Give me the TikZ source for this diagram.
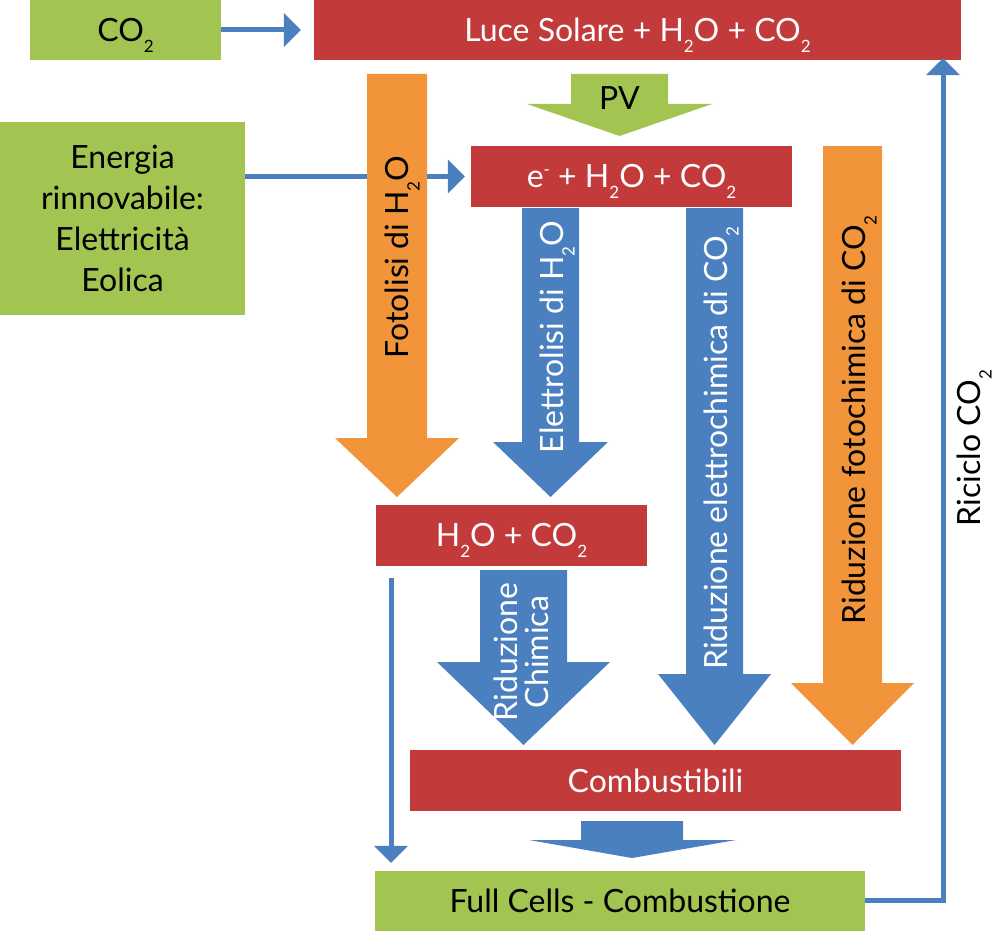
\documentclass[tikz,border=0pt]{standalone}
\usepackage{fontspec}
\setmainfont{Lato}
\usetikzlibrary{arrows.meta}
\definecolor{cgreen}{HTML}{A2C552}
\definecolor{cred}{HTML}{C23A3A}
\definecolor{corange}{HTML}{F2953A}
\definecolor{cblue}{HTML}{4A80BF}
\newcommand\ssub[1]{\raisebox{-11pt}[0pt][0pt]{\fontsize{17}{17}\selectfont #1}}
\newcommand\ssup[1]{\raisebox{12pt}[0pt][0pt]{\fontsize{17}{17}\selectfont #1}}
\tikzset{
  box/.style={rectangle, inner sep=0pt, minimum width=#1, font=\fontsize{32}{41}\selectfont},
  redbox/.style={box=#1, fill=cred, text=white, minimum height=61pt},
  greenbox/.style={box=#1, fill=cgreen, text=black, minimum height=60pt},
  thinarrow/.style={draw=cblue, line width=5pt, -{Triangle[width=33pt,length=17pt]}},
  vlabel/.style={rotate=90, inner sep=0pt, font=\fontsize{32}{31}\selectfont},
}
\begin{document}
\begin{tikzpicture}[x=1pt,y=-1pt]
\useasboundingbox (0,0) rectangle (1000,931);
% boxes
\node[greenbox=191pt] (co2) at (125.5,30) {CO\ssub2};
\node[redbox=647pt, minimum height=60pt] (luce) at (637.5,30) {Luce Solare + H\ssub2O + CO\ssub2};
\node[greenbox=245pt, minimum height=193pt, align=center] (energia) at (122.5,218.5)
  {Energia\\rinnovabile:\\Elettricità\\Eolica};
\node[redbox=321pt] (epl) at (631.5,176.5) {e\ssup{-} + H\ssub2O + CO\ssub2};
% thin connectors
\draw[thinarrow, shorten >=13pt] (co2.east) -- (luce.west);
\draw[thinarrow, shorten >=6pt] (epl.west -| energia.east) -- (epl.west);
% block arrows
\fill[corange] (367,74) -- (427,74) -- (427,438) -- (459,438) -- (397,497) -- (335,438) -- (367,438) -- cycle;
\node[vlabel] (lfoto) at (397,257) {Fotolisi di H\ssub2O};
\fill[cgreen] (571,74) -- (668,74) -- (668,104) -- (712,104) -- (619.5,136) -- (527,104) -- (571,104) -- cycle;
\node[inner sep=0pt, font=\fontsize{32}{31}\selectfont] (lpv) at (619.5,98) {PV};
\fill[cblue] (522,208) -- (579,208) -- (579,442) -- (608,442) -- (550.5,497) -- (493,442) -- (522,442) -- cycle;
\node[vlabel, text=white] (lelet) at (552,337) {Elettrolisi di H\ssub2O};
\fill[cblue] (686,208) -- (743,208) -- (743,674) -- (771,674) -- (714.5,745) -- (658,674) -- (686,674) -- cycle;
\node[vlabel, text=white] (lelch) at (716,448) {Riduzione elettrochimica di CO\ssub2};
\fill[corange] (823,146) -- (882,146) -- (882,683) -- (914,683) -- (852.5,745) -- (791,683) -- (823,683) -- cycle;
\node[vlabel] (lfch) at (854,420) {Riduzione fotochimica di CO\ssub2};
\node[redbox=271pt] (h2o) at (511.5,535.5) {H\ssub2O + CO\ssub2};
\fill[cblue] (480,570) -- (567,570) -- (567,662) -- (610,662) -- (523.5,745) -- (437,662) -- (480,662) -- cycle;
\node[vlabel, text=white, align=center] (lchim) at (521,652) {Riduzione\\Chimica};
\node[redbox=491pt] (comb) at (655.5,780.5) {Combustibili};
\fill[cblue] (581,821) -- (683,821) -- (683,840) -- (736,840) -- (632,858) -- (529,840) -- (581,840) -- cycle;
\node[greenbox=490pt] (fuel) at (620,901) {Full Cells - Combustione};
\coordinate (s1) at (391,578);
\draw[thinarrow, shorten >=8pt] (s1) -- (s1 |- fuel.north);
\coordinate (r1) at (943,900);
\draw[thinarrow, shorten >=-2pt] (fuel.east |- r1) -- (r1) -- (r1 |- luce.south);
\node[vlabel] (lric) at (969,448) {Riciclo CO\ssub2};
\end{tikzpicture}
\end{document}
